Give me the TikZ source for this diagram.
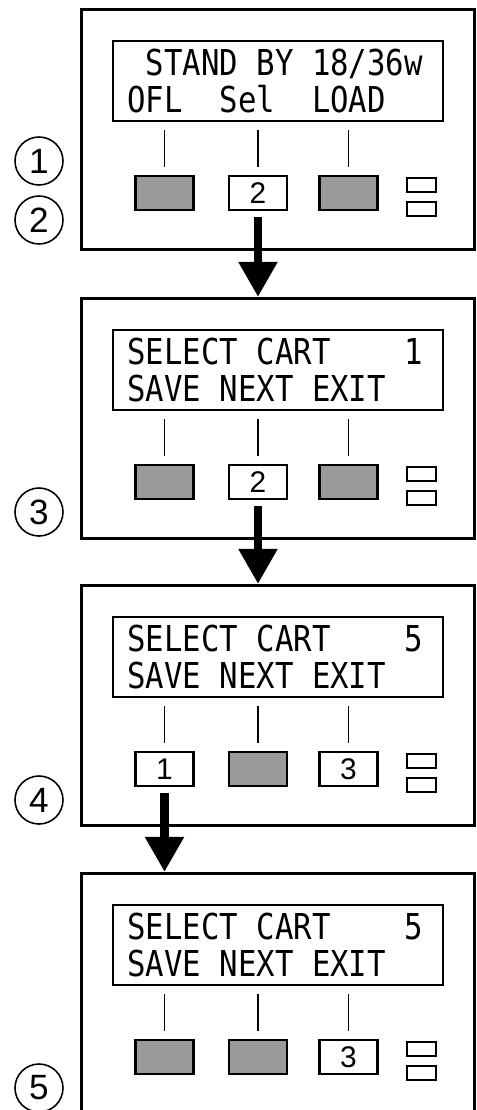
\documentclass[tikz,border=0pt]{standalone}
\usepackage{fontspec}
\setmainfont{Liberation Sans}
\newfontfamily\lcdfont[FakeStretch=0.86]{DejaVu Sans Mono}
\newcommand{\lcdsp}{\phantom{0}}
\usetikzlibrary{arrows.meta, positioning}

\begin{document}
\begin{tikzpicture}[x=0.02cm, y=-0.02cm,
    panel/.style={draw, line width=1.5pt, minimum width=7.86cm, minimum height=4.8cm, inner sep=0pt, anchor=north west},
    screen/.style={draw, line width=1.4pt, minimum width=6.6cm, minimum height=1.6cm, inner sep=0pt, anchor=north west},
    keyoff/.style={draw, line width=1.4pt, fill=black!40, minimum width=1.16cm, minimum height=0.68cm, inner sep=0pt},
    keyon/.style={keyoff, fill=white, font=\fontsize{17}{17}\selectfont},
    led/.style={draw, line width=1.2pt, minimum width=0.58cm, minimum height=0.28cm, inner sep=0pt},
    tick/.style={line width=0.6pt, shorten <=4.5pt, shorten >=4.5pt},
    stepno/.style={draw, circle, line width=0.9pt, minimum size=0.96cm, inner sep=0pt, font=\fontsize{20}{20}\selectfont},
    lcd/.style={anchor=base west, inner sep=0pt, font=\lcdfont\fontsize{20.3}{20.3}\selectfont},
    flow/.style={line width=5pt, -{Triangle[width=21pt, length=20pt]}, shorten <=3.5pt}]

    \useasboundingbox (0,0) rectangle (477,1110);

    % Panels with display, LEDs and key positions
    \foreach \n/\top in {1/8, 2/297, 3/584, 4/872} {
        \node[panel] (p\n) at (80,\top) {};
        \node[screen] (s\n) at (112,\top+32) {};
        \node[led] (u\n) at (421.5,\top+177) {};
        \node[led] (v\n) at (421.5,\top+201) {};
        \foreach \k/\x in {a/164.5, b/258, c/348.5}
            \coordinate (c\n\k) at (\x,\top+185);
    }

    % Keys: grey = idle, white = pressed
    \foreach \n/\k/\s/\t in {1/a/keyoff/{}, 1/b/keyon/2, 1/c/keyoff/{},
                             2/a/keyoff/{}, 2/b/keyon/2, 2/c/keyoff/{},
                             3/a/keyon/1, 3/b/keyoff/{}, 3/c/keyon/3,
                             4/a/keyoff/{}, 4/b/keyoff/{}, 4/c/keyon/3} {
        \node[\s] (k\n\k) at (c\n\k) {\t};
        \draw[tick] (k\n\k.north) -- (k\n\k.north |- s\n.south);
    }

    % Display texts (one blank cell = \lcdsp)
    \node[lcd] (t1a) at (127,75) {\lcdsp STAND\lcdsp BY\lcdsp 18/36w};
    \node[lcd] (t1b) at (127,112) {OFL\lcdsp\lcdsp Sel\lcdsp\lcdsp LOAD};
    \node[lcd] (t2a) at (127,364) {SELECT\lcdsp CART\lcdsp\lcdsp\lcdsp\lcdsp 1};
    \node[lcd] (t2b) at (127,401) {SAVE\lcdsp NEXT\lcdsp EXIT};
    \node[lcd] (t3a) at (127,651) {SELECT\lcdsp CART\lcdsp\lcdsp\lcdsp\lcdsp 5};
    \node[lcd] (t3b) at (127,688) {SAVE\lcdsp NEXT\lcdsp EXIT};
    \node[lcd] (t4a) at (127,939) {SELECT\lcdsp CART\lcdsp\lcdsp\lcdsp\lcdsp 5};
    \node[lcd] (t4b) at (127,976) {SAVE\lcdsp NEXT\lcdsp EXIT};

    % Step numbers
    \node[stepno] (n1) at (39,161) {1};
    \node[stepno] (n2) at (39,220) {2};
    \node[stepno] (n3) at (39,512) {3};
    \node[stepno] (n4) at (39,800) {4};
    \node[stepno] (n5) at (39,1088) {5};

    % Arrows
    \draw[flow] (k1b.south) -- (k1b.south |- p2.north);
    \draw[flow] (k2b.south) -- (k2b.south |- p3.north);
    \draw[flow] (k3a.south) -- (k3a.south |- p4.north);

\end{tikzpicture}
\end{document}
